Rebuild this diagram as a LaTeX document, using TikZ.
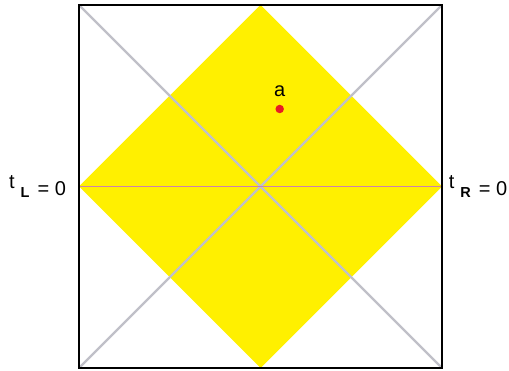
\documentclass[tikz,border=0pt]{standalone}
\usepackage{fontspec}
\setmainfont{Liberation Sans}
\usetikzlibrary{positioning}

\definecolor{regionyellow}{RGB}{255,240,0}
\definecolor{lightcone}{RGB}{192,192,200}
\definecolor{slicepink}{RGB}{205,130,172}
\definecolor{eventred}{RGB}{232,28,36}

\newcommand{\tzero}[1]{\raisebox{6.8pt}{t}\kern6pt\raisebox{-2.5pt}{\fontsize{14.5}{15}\selectfont\bfseries #1}\kern2.5pt{} = 0}

\begin{document}
\begin{tikzpicture}[
          x=1pt, y=-1pt,
          every node/.style={inner sep=0pt, font=\fontsize{20}{22}\selectfont},
          region/.style={fill=regionyellow},
          cone/.style={draw=lightcone, line width=2.2pt},
          slice/.style={draw=slicepink, line width=1.5pt},
          frame/.style={draw=black, line width=2pt},
          event/.style={circle, fill=eventred, minimum size=8.5pt}
        ]
        \useasboundingbox (0,0) rectangle (509,371);
        % corners
        \coordinate (nw) at (79,5);
        \coordinate (ne) at (442,5);
        \coordinate (sw) at (79,368);
        \coordinate (se) at (442,368);
        % diamond tips
        \coordinate (n) at (260.5,5);
        \coordinate (s) at (260.5,368);
        \coordinate (w) at (79,186.5);
        \coordinate (e) at (442,186.5);
        % yellow region
        \fill[region] (n) -- (e) -- (s) -- (w) -- cycle;
        % diagonals
        \draw[cone] (nw) -- (se);
        \draw[cone] (ne) -- (sw);
        % t = 0 slice
        \draw[slice] (w) -- (e);
        \draw[frame] (nw) rectangle (se);
        % point a
        \node[event] (a) at (279.7,109) {};
        \node[above=7.5pt of a] (alabel) {a};
        % labels
        \node[anchor=base east] (tl) at (66.2,195.5) {\tzero{L}};
        \node[anchor=base west] (tr) at (448.6,195.5) {\tzero{R}};
      \end{tikzpicture}
\end{document}
